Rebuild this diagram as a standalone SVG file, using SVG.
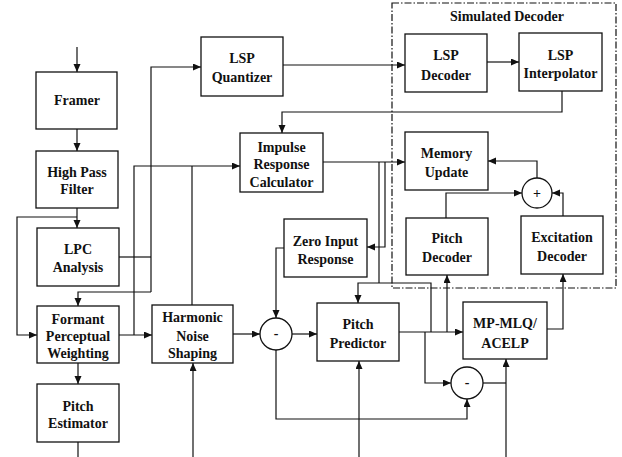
<svg xmlns="http://www.w3.org/2000/svg" width="622" height="457" viewBox="0 0 622 457">
<style>
.box{fill:#fff;stroke:#111;stroke-width:1.3}
.t{font-family:'Liberation Serif','Times New Roman',serif;font-size:14px;font-weight:bold;fill:#111;text-anchor:middle}
.c{fill:none;stroke:#111;stroke-width:1.2}
.a{marker-end:url(#ah)}
.dd{fill:none;stroke:#111;stroke-width:1.2;stroke-dasharray:7 2 1.5 2}
</style>
<defs>
<marker id="ah" markerWidth="9" markerHeight="8" refX="8" refY="3.5" orient="auto" markerUnits="userSpaceOnUse">
<path d="M0,0 L8,3.5 L0,7 z" fill="#111"/>
</marker>
</defs>
<rect fill="#fff" width="622" height="457"/>
<g id="simulated-decoder">
<rect class="dd" x="392" y="3" width="224" height="285"/>
<text class="t" x="507" y="21">Simulated Decoder</text>
</g>
<g id="connectors">
<path class="c a" d="M77,47 V72"/>
<path class="c a" d="M77,129 V151"/>
<path class="c a" d="M77,208 V228"/>
<path class="c a" d="M77,217 H17 V335 H37"/>
<path class="c" d="M119,257 H151"/>
<path class="c a" d="M151,292 V67 H201"/>
<path class="c a" d="M151,292 H78 V306"/>
<path class="c a" d="M119,335 H152"/>
<path class="c a" d="M134,335 V166 H240"/>
<path class="c" d="M192,166 V305"/>
<path class="c a" d="M78,363 V384"/>
<path class="c" d="M78,442 V457"/>
<path class="c a" d="M193,457 V363"/>
<path class="c a" d="M233,334 H260"/>
<path class="c a" d="M292,334 H317"/>
<path class="c a" d="M284,248 H276 V318"/>
<path class="c a" d="M276,350 V419 H467 V399"/>
<path class="c a" d="M359,457 V361"/>
<path class="c a" d="M399,332 H463"/>
<path class="c a" d="M425,332 V383 H451"/>
<path class="c" d="M483,383 H506"/>
<path class="c a" d="M506,457 V359"/>
<path class="c a" d="M547,329 H563 V274"/>
<path class="c a" d="M447,332 V275"/>
<path class="c a" d="M283,65 H405"/>
<path class="c a" d="M487,62 H519"/>
<path class="c a" d="M562,91 V112 H282 V133"/>
<path class="c a" d="M323,162 H405"/>
<path class="c a" d="M385,162 V247 H367"/>
<path class="c" d="M379,162 V283"/>
<path class="c a" d="M431,332 V283 H358 V303"/>
<path class="c a" d="M537,178 V161 H488"/>
<path class="c a" d="M446,218 V193 H522"/>
<path class="c a" d="M563,216 V193 H552"/>
</g>
<g id="framer"><rect class="box" x="36" y="72" width="81" height="57"/><text class="t" x="77" y="105">Framer</text></g>
<g id="high-pass-filter"><rect class="box" x="36" y="151" width="82" height="57"/><text class="t" x="77" y="176.5">High Pass</text><text class="t" x="77" y="193.5">Filter</text></g>
<g id="lpc-analysis"><rect class="box" x="37" y="228" width="82" height="58"/><text class="t" x="78" y="253.5">LPC</text><text class="t" x="78" y="271.5">Analysis</text></g>
<g id="formant-weighting"><rect class="box" x="37" y="306" width="82" height="57"/><text class="t" x="78" y="323.5">Formant</text><text class="t" x="78" y="340.5">Perceptual</text><text class="t" x="78" y="357.5">Weighting</text></g>
<g id="pitch-estimator"><rect class="box" x="37" y="384" width="82" height="58"/><text class="t" x="78" y="410.5">Pitch</text><text class="t" x="78" y="427.5">Estimator</text></g>
<g id="lsp-quantizer"><rect class="box" x="201" y="37" width="82" height="59"/><text class="t" x="242" y="62.5">LSP</text><text class="t" x="242" y="81.5">Quantizer</text></g>
<g id="impulse-response"><rect class="box" x="240" y="133" width="83" height="59"/><text class="t" x="281.5" y="151.5">Impulse</text><text class="t" x="281.5" y="168.5">Response</text><text class="t" x="281.5" y="186.5">Calculator</text></g>
<g id="harmonic-noise"><rect class="box" x="152" y="305" width="81" height="58"/><text class="t" x="192.5" y="321.5">Harmonic</text><text class="t" x="192.5" y="340.5">Noise</text><text class="t" x="192.5" y="357.5">Shaping</text></g>
<g id="zero-input"><rect class="box" x="284" y="219" width="83" height="58"/><text class="t" x="325.5" y="245.5">Zero Input</text><text class="t" x="325.5" y="263.5">Response</text></g>
<g id="subtract1"><circle class="box" cx="276" cy="334" r="16"/><text class="t" x="276" y="338">-</text></g>
<g id="pitch-predictor"><rect class="box" x="317" y="303" width="82" height="58"/><text class="t" x="358" y="328.5">Pitch</text><text class="t" x="358" y="347.5">Predictor</text></g>
<g id="subtract2"><circle class="box" cx="467" cy="383" r="16"/><text class="t" x="467" y="387">-</text></g>
<g id="mp-mlq"><rect class="box" x="463" y="302" width="84" height="57"/><text class="t" x="505" y="327.5">MP-MLQ/</text><text class="t" x="505" y="347.5">ACELP</text></g>
<g id="lsp-decoder"><rect class="box" x="405" y="34" width="82" height="58"/><text class="t" x="446" y="59.5">LSP</text><text class="t" x="446" y="79.5">Decoder</text></g>
<g id="lsp-interpolator"><rect class="box" x="519" y="33" width="83" height="58"/><text class="t" x="560.5" y="59.5">LSP</text><text class="t" x="560.5" y="77.5">Interpolator</text></g>
<g id="memory-update"><rect class="box" x="405" y="132" width="83" height="58"/><text class="t" x="446.5" y="157.5">Memory</text><text class="t" x="446.5" y="176.5">Update</text></g>
<g id="adder"><circle class="box" cx="537" cy="193" r="15"/><text class="t" x="537" y="197.5">+</text></g>
<g id="pitch-decoder"><rect class="box" x="406" y="218" width="82" height="57"/><text class="t" x="447" y="242.5">Pitch</text><text class="t" x="447" y="261.5">Decoder</text></g>
<g id="excitation-decoder"><rect class="box" x="521" y="216" width="82" height="58"/><text class="t" x="562" y="241.5">Excitation</text><text class="t" x="562" y="260.5">Decoder</text></g>
</svg>
